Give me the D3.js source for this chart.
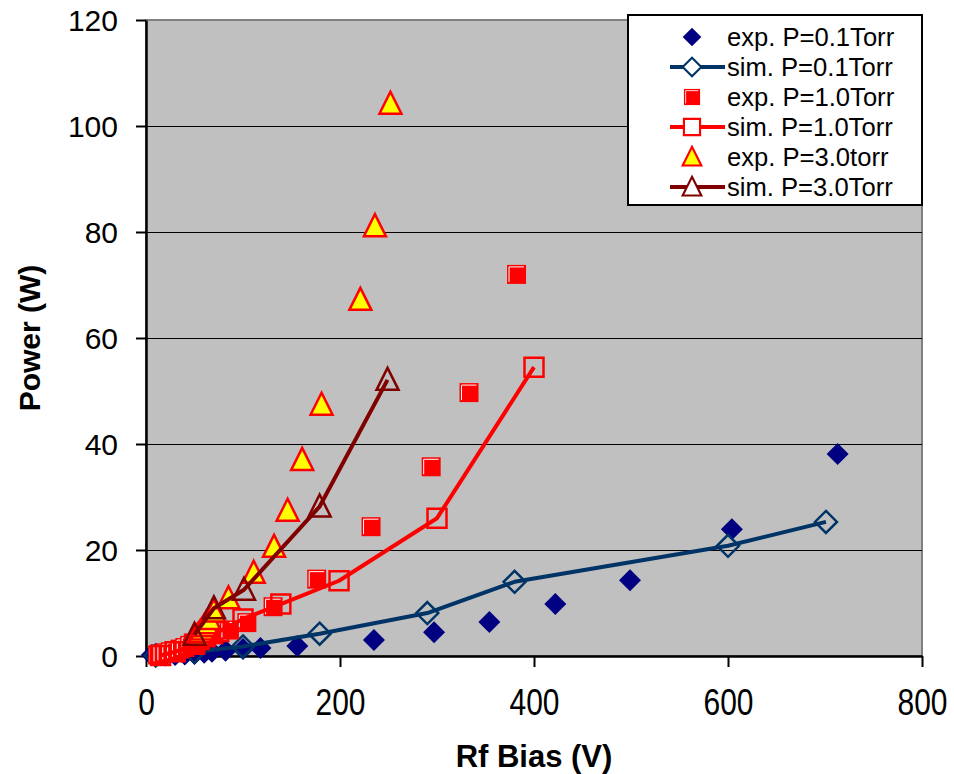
<!DOCTYPE html>
<html>
<head>
<meta charset="utf-8">
<script src="https://cdn.jsdelivr.net/npm/d3@7"></script>
<style>
  body { margin: 0; background: #fff; }
  text { font-family: "Liberation Sans", Arial, sans-serif; }
</style>
</head>
<body>
<div id="chart"></div>
<script>
// data: [Rf bias (V), power (W)]
var exp01 = [[6,0.2],[20,0.1],[30,0.2],[40,0.3],[50,0.4],[60,0.6],[68,0.8],[82,1.0],[100,1.3],[118,1.5],[156,1.9],[235,3.0],[297,4.5],[354,6.4],[422,9.8],[499,14.3],[604,23.9],[713,38.1]];
var sim01 = [[10,0.1],[50,0.8],[100,1.8],[179,4.2],[290,8.1],[380,14.0],[600,20.8],[701,25.3]];
var exp10 = [[12,0.2],[16,0.4],[20,0.6],[25,0.8],[30,1.0],[35,1.3],[40,1.6],[45,2.0],[50,2.4],[56,2.9],[62,3.4],[70,4.0],[86,4.9],[104,6.3],[131,9.3],[176,14.5],[232,24.4],[294,35.7],[333,49.7],[382,72.0]];
var sim10 = [[15,0.1],[30,0.8],[50,2.2],[75,4.6],[100,7.0],[139,9.8],[199,14.2],[300,26.0],[400,54.5]];
var exp30 = [[48,2.8],[50,3.2],[52,3.6],[54,4.0],[56,4.5],[58,5.0],[60,5.6],[62,6.2],[65,7.0],[70,8.4],[85,10.9],[111,15.7],[132,20.6],[146,27.4],[161,37.0],[181,47.4],[221,67.2],[236,81.1],[252,104.2]];
var sim30 = [[50,4.0],[70,9.0],[101,12.5],[179,28.2],[249,52.1]];

var xTicks = [0, 200, 400, 600, 800];
var yTicks = [0, 20, 40, 60, 80, 100, 120];
var seriesNames = ["exp. P=0.1Torr", "sim. P=0.1Torr", "exp. P=1.0Torr", "sim. P=1.0Torr", "exp. P=3.0torr", "sim. P=3.0Torr"];

var margin = {top: 20, right: 32, bottom: 118, left: 146},
    width = 954 - margin.left - margin.right,
    height = 774 - margin.top - margin.bottom;

var svg = d3.select("#chart")
  .append("svg")
    .attr("width", 954)
    .attr("height", 774)
  .append("g")
    .attr("transform", "translate(" + margin.left + "," + margin.top + ")");

var x = d3.scaleLinear().domain([0, 800]).range([0, width]);
var y = d3.scaleLinear().domain([0, 120]).range([height, 0]);

// plot area
svg.append("rect")
  .attr("width", width)
  .attr("height", height)
  .attr("fill", "#c0c0c0")
  .attr("stroke", "#808080")
  .attr("stroke-width", 2);

// gridlines
svg.selectAll(".grid")
  .data(yTicks.filter(d => d > 0 && d < 120))
  .enter().append("line")
    .attr("x1", 0).attr("x2", width)
    .attr("y1", d => y(d) + 0.5).attr("y2", d => y(d) + 0.5)
    .attr("stroke", "#000")
    .attr("stroke-width", 1)
    .attr("shape-rendering", "crispEdges");

// axes
var xAxis = svg.append("g")
  .attr("transform", "translate(0," + height + ")")
  .call(d3.axisBottom(x).tickValues(xTicks).tickSize(11).tickSizeOuter(0).tickFormat(d3.format("d")));
xAxis.select(".domain").attr("stroke-width", 2.5);
xAxis.selectAll(".tick line").attr("stroke-width", 2);
xAxis.selectAll("text")
  .attr("y", 59)
  .attr("dy", "0")
  .attr("transform", "scale(0.81,1)")
  .style("font-size", "37px")
  .attr("fill", "#000");

var yAxis = svg.append("g")
  .call(d3.axisLeft(y).tickValues(yTicks).tickSize(10).tickSizeOuter(0).tickPadding(18));
yAxis.select(".domain").attr("stroke-width", 2.5);
yAxis.selectAll(".tick line").attr("stroke-width", 2);
yAxis.selectAll("text")
  .attr("dy", "0.36em")
  .style("font-size", "30px")
  .attr("fill", "#000");

// axis titles
svg.append("text")
  .attr("x", width / 2)
  .attr("y", 747)
  .attr("text-anchor", "middle")
  .style("font-size", "31px")
  .style("font-weight", "bold")
  .text("Rf Bias (V)");

svg.append("text")
  .attr("transform", "translate(" + (40 - margin.left) + "," + (height / 2) + ")rotate(-90)")
  .attr("text-anchor", "middle")
  .style("font-size", "30px")
  .style("font-weight", "bold")
  .text("Power (W)");

// marker shapes
var diamond = "M0,-11L11,0L0,11L-11,0Z";
var square = "M-9.5,-9.5h19v19h-19Z";
var triangle = "M0,-12L11,10L-11,10Z";

var styles = [
  {data: exp01, shape: diamond, fill: "#000080", stroke: "none", line: null},
  {data: sim01, shape: diamond, fill: "none", stroke: "#003366", line: "#003366"},
  {data: exp10, shape: square, fill: "#ff0000", stroke: "none", line: null, shine: true},
  {data: sim10, shape: square, fill: "none", stroke: "#ff0000", line: "#ff0000"},
  {data: exp30, shape: triangle, fill: "#ffff00", stroke: "#ff0000", line: null},
  {data: sim30, shape: triangle, fill: "none", stroke: "#800000", line: "#800000"}
];

var lineGen = d3.line()
  .x(d => x(d[0]))
  .y(d => y(d[1]));

function addMarker(g, s, fillOverride) {
  g.append("path")
    .attr("d", s.shape)
    .attr("fill", fillOverride || s.fill)
    .attr("stroke", s.stroke)
    .attr("stroke-width", 2.5);
  if (s.shine) {
    g.append("path")
      .attr("d", "M-7.5,7.5V-7.5H7.5")
      .attr("fill", "none")
      .attr("stroke", "#fff")
      .attr("stroke-width", 1);
  }
}

styles.forEach(function(s) {
  if (s.line) {
    svg.append("path")
      .datum(s.data)
      .attr("d", lineGen)
      .attr("fill", "none")
      .attr("stroke", s.line)
      .attr("stroke-width", 4)
      .attr("stroke-linejoin", "round");
  }
  svg.append("g").selectAll("g")
    .data(s.data)
    .enter().append("g")
      .attr("transform", d => "translate(" + x(d[0]) + "," + y(d[1]) + ")")
      .each(function() { addMarker(d3.select(this), s); });
});

// legend
var legend = svg.append("g")
  .attr("transform", "translate(" + (628 - margin.left) + "," + (15 - margin.top) + ")");
legend.append("rect")
  .attr("width", 294)
  .attr("height", 190)
  .attr("fill", "#fff")
  .attr("stroke", "#000")
  .attr("stroke-width", 2);

styles.forEach(function(s, i) {
  var row = legend.append("g")
    .attr("transform", "translate(0," + (22 + i * 30) + ")");
  if (s.line) {
    row.append("line")
      .attr("x1", 42).attr("x2", 97)
      .attr("stroke", s.line)
      .attr("stroke-width", 4);
  }
  var m = row.append("g").attr("transform", "translate(64,0)scale(0.85)");
  addMarker(m, s, s.fill === "none" ? "#fff" : null);
  row.append("text")
    .attr("x", 99)
    .attr("y", 9)
    .style("font-size", "25.6px")
    .text(seriesNames[i]);
});
</script>
</body>
</html>
